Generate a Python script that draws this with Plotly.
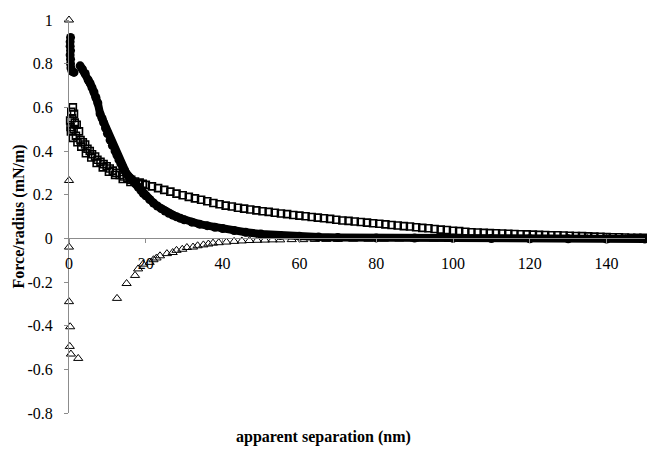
import plotly.graph_objects as go

# ---- data ----
circ_cluster_x = [0.4, 0.3, 0.3, 0.4, 0.3, 0.4, 0.4, 0.5, 0.8, 1.3]
circ_cluster_y = [0.92, 0.90, 0.88, 0.86, 0.84, 0.82, 0.80, 0.78, 0.765, 0.76]

circ_x = [2.9, 3.5, 4.2, 5.0, 5.5, 6.0, 6.5, 7.0, 7.5, 8.1, 8.6, 9.0, 9.5, 10.0, 10.7,
          11.3, 12.0, 12.5, 13.0, 13.5, 14.0, 14.5, 15.0, 15.5, 16.0, 16.7, 17.3, 18.0,
          18.7, 19.3, 20.0, 21.0, 22.0, 23.0, 24.0, 25.0, 26.0, 27.0, 28.0, 29.0, 30.0,
          32.0, 34.0, 36.0, 38.0, 40.0, 43.0, 46.0, 50.0, 55.0, 60.0, 65.0, 70.0, 80.0,
          90.0, 100.0, 110.0, 120.0, 130.0, 140.0, 150.0]
circ_y = [0.79, 0.775, 0.755, 0.725, 0.71, 0.69, 0.67, 0.645, 0.62, 0.57, 0.55, 0.53, 0.505,
          0.48, 0.45, 0.425, 0.40, 0.38, 0.36, 0.342, 0.325, 0.31, 0.295, 0.285, 0.275,
          0.262, 0.25, 0.235, 0.22, 0.206, 0.195, 0.178, 0.162, 0.148, 0.136, 0.125,
          0.115, 0.106, 0.099, 0.092, 0.085, 0.074, 0.065, 0.058, 0.051, 0.045, 0.036,
          0.028, 0.02, 0.013, 0.009, 0.006, 0.004, 0.002, 0.001, 0.0, -0.001, -0.002,
          -0.002, -0.003, -0.003]

sq_x = [0.3, 0.6, 1.0, 1.3, 0.4, 0.8, 1.5, 0.5, 1.2, 2.0, 1.0, 1.8, 2.6, 2.2, 3.0, 3.6,
        3.2, 4.2, 4.8, 4.4, 5.4, 6.0, 5.8, 6.8, 7.4, 7.2, 8.2, 9.0, 8.8, 9.8, 10.6, 10.4,
        11.4, 12.3, 12.0, 13.2, 14.2, 14.0, 15.2, 16.2, 16.0, 17.2, 18.4, 18.0, 19.2,
        20.0, 21.6, 23.2, 24.8, 26.4, 28.0, 29.6, 31.2, 32.8, 34.4, 36.0, 37.6, 39.2,
        40.8, 42.4, 44.0, 45.6, 47.2, 48.8, 50.4, 52.0, 53.6, 55.2, 56.8, 58.4, 60.0,
        61.6, 63.2, 64.8, 66.4, 68.0, 69.6, 71.2, 72.8, 74.4, 76.0, 77.6, 79.2, 80.8,
        82.4, 84.0, 85.6, 87.2, 88.8, 90.4, 92.0, 93.6, 95.2, 96.8, 98.4, 100.0, 101.6,
        103.2, 104.8, 106.4, 108.0, 109.6, 111.2, 112.8, 114.4, 116.0, 117.6, 119.2,
        120.8, 122.4, 124.0, 125.6, 127.2, 128.8, 130.4, 132.0, 133.6, 135.2, 136.8,
        138.4, 140.0, 141.6, 143.2, 144.8, 146.4, 148.0, 149.6]
sq_y = [0.54, 0.58, 0.60, 0.57, 0.51, 0.55, 0.53, 0.49, 0.50, 0.52, 0.46, 0.47, 0.49, 0.44,
        0.45, 0.44, 0.42, 0.43, 0.41, 0.39, 0.40, 0.385, 0.37, 0.375, 0.36, 0.345, 0.35,
        0.34, 0.325, 0.33, 0.32, 0.305, 0.31, 0.30, 0.29, 0.29, 0.283, 0.272, 0.275,
        0.268, 0.258, 0.26, 0.255, 0.248, 0.25,
        0.245, 0.238, 0.230, 0.222, 0.214, 0.205, 0.197, 0.190, 0.183, 0.177, 0.170,
        0.162, 0.156, 0.150, 0.146, 0.140, 0.136, 0.132, 0.128, 0.124, 0.121, 0.117,
        0.114, 0.111, 0.107, 0.104, 0.101, 0.098, 0.095, 0.092, 0.089, 0.085, 0.082,
        0.080, 0.077, 0.075, 0.072, 0.069, 0.067, 0.064, 0.061, 0.059, 0.056, 0.054,
        0.051, 0.048, 0.046, 0.043, 0.040, 0.038, 0.035, 0.033, 0.030, 0.028, 0.027,
        0.025, 0.024, 0.023, 0.022, 0.021, 0.020, 0.019, 0.018, 0.017, 0.016, 0.015,
        0.014, 0.014, 0.013, 0.012, 0.011, 0.010, 0.009, 0.008, 0.007, 0.006, 0.005,
        0.005, 0.004, 0.003, 0.003, 0.002]

tri_x = [0, 0, 0, 0, 0.3, 0.2, 0.5, 2.4, 12.5, 15.0, 17.2, 18.0, 19.3, 21.0, 22.0, 22.8,
         23.7, 25.5, 27.0, 28.0, 29.5, 30.7, 32.3, 33.5, 35.0, 36.3, 37.5, 39.0, 41.0,
         43.0, 45.0, 47.0, 49.0, 51, 53, 55, 58, 61, 64, 67, 70, 74, 78, 82, 86, 90, 95,
         100, 105, 110, 115, 120, 125, 130, 135, 140, 145, 150]
tri_y = [1.0, 0.265, -0.04, -0.29, -0.405, -0.495, -0.53, -0.55, -0.275, -0.207, -0.17,
         -0.14, -0.118, -0.11, -0.098, -0.09, -0.08, -0.07, -0.065, -0.055, -0.05, -0.042,
         -0.04, -0.034, -0.03, -0.026, -0.022, -0.02, -0.017, -0.014, -0.012, -0.01,
         -0.009, -0.008, -0.007, -0.007, -0.006, -0.006, -0.005, -0.005, -0.005, -0.004,
         -0.004, -0.004, -0.003, -0.003, -0.003, -0.003, -0.002, -0.002, -0.002, -0.002,
         -0.002, -0.002, -0.001, -0.001, -0.001, -0.001]

x_ticks = [0, 20, 40, 60, 80, 100, 120, 140]
y_ticks = [1, 0.8, 0.6, 0.4, 0.2, 0, -0.2, -0.4, -0.6, -0.8]
y_tick_labels = ["1", "0.8", "0.6", "0.4", "0.2", "0", "-0.2", "-0.4", "-0.6", "-0.8"]

X_RANGE = [0, 150]
Y_RANGE = [-0.8, 1.0]

FONT = '"Liberation Serif", "Times New Roman", Times, serif'

fig = go.Figure()
fig.add_trace(go.Scatter(x=circ_cluster_x, y=circ_cluster_y, mode="markers",
                         marker=dict(symbol="circle", size=9, color="black"),
                         cliponaxis=False, showlegend=False))
fig.add_trace(go.Scatter(x=circ_x, y=circ_y, mode="lines+markers",
                         line=dict(color="black", width=8),
                         marker=dict(symbol="circle", size=9, color="black"),
                         cliponaxis=False, showlegend=False))
fig.add_trace(go.Scatter(x=sq_x, y=sq_y, mode="markers",
                         marker=dict(symbol="square-open", size=7, color="black",
                                     line=dict(width=1.6)),
                         cliponaxis=False, showlegend=False))
fig.add_trace(go.Scatter(x=tri_x, y=tri_y, mode="markers",
                         marker=dict(symbol="triangle-up-open", size=8, color="black",
                                     line=dict(width=1)),
                         cliponaxis=False, showlegend=False))

zero_pos = (0 - Y_RANGE[0]) / (Y_RANGE[1] - Y_RANGE[0])

fig.update_layout(
    width=647, height=451,
    margin=dict(l=69, r=2, t=20, b=38),
    paper_bgcolor="white", plot_bgcolor="white",
    font=dict(family=FONT, size=16, color="black"),
    xaxis=dict(range=X_RANGE, anchor="free", position=zero_pos,
               showline=True, linecolor="#8c8c8c", linewidth=1,
               ticks="outside", ticklen=4, tickcolor="#8c8c8c",
               tickvals=x_ticks, ticktext=[str(v) for v in x_ticks],
               ticklabelstandoff=6,
               showgrid=False, zeroline=False,
               tickfont=dict(family=FONT, size=16, color="black")),
    yaxis=dict(range=Y_RANGE, showline=True, linecolor="#8c8c8c", linewidth=1,
               ticks="outside", ticklen=4, tickcolor="#8c8c8c",
               tickvals=y_ticks, ticktext=y_tick_labels,
               ticklabelstandoff=8,
               showgrid=False, zeroline=False,
               tickfont=dict(family=FONT, size=16, color="black")),
    annotations=[
        dict(text="<b>apparent separation (nm)</b>", xref="paper", yref="paper",
             x=(323.5 - 69) / 576, y=-(437 - 413) / 393, xanchor="center", yanchor="middle",
             showarrow=False, font=dict(family=FONT, size=16, color="black")),
        dict(text="<b>Force/radius (mN/m)</b>", xref="paper", yref="paper",
             x=(18 - 69) / 576, y=0.5, xanchor="center", yanchor="middle",
             textangle=-90, showarrow=False,
             font=dict(family=FONT, size=16, color="black")),
    ],
)

fig.write_html("out.html", config={"displayModeBar": False},
               post_script="document.body.style.margin='0';document.body.style.overflow='hidden';")
